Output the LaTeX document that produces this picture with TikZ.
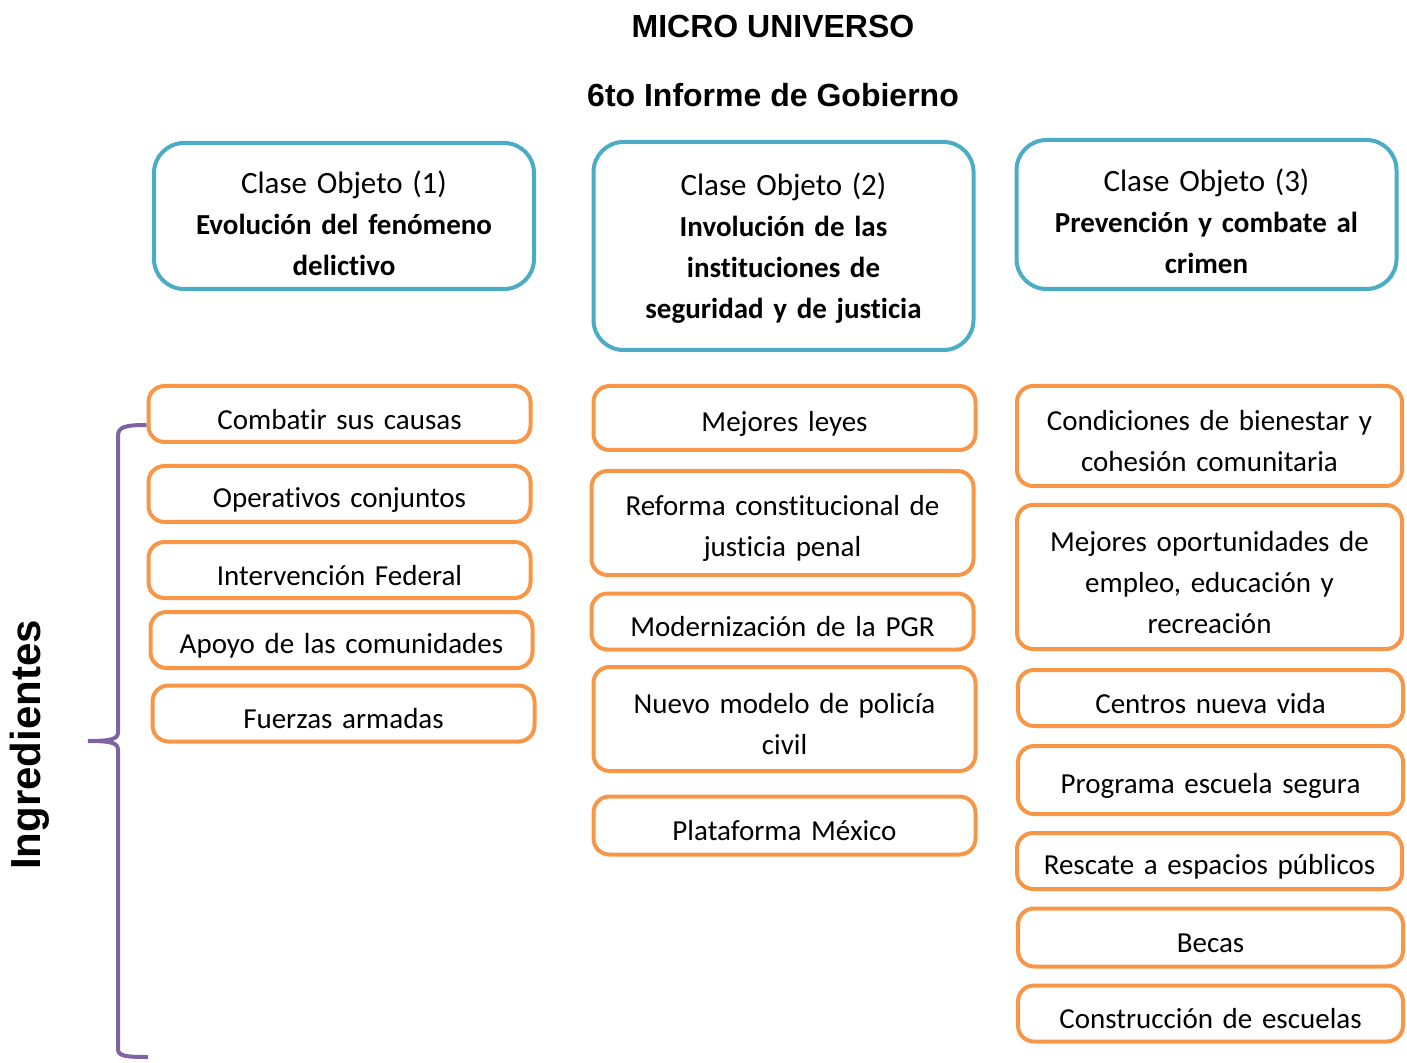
\documentclass[tikz,border=0pt]{standalone}
\usepackage{fontspec}
\setmainfont{Carlito}[Ligatures=NoCommon]
\newfontfamily\arialfont{Liberation Sans}
\definecolor{azulclase}{HTML}{4BACC6}
\definecolor{naranjaing}{HTML}{F79646}
\definecolor{moradollave}{HTML}{8064A2}
\newcommand{\textocaja}{\fontsize{14.5pt}{20.5pt}\selectfont}
\newcommand{\claseobj}[1]{{\fontsize{15.5pt}{20.5pt}\selectfont Clase Objeto (#1)}}

\begin{document}
\begin{tikzpicture}[x=0.5pt, y=-0.5pt,
	clase/.style={draw=azulclase, line width=2pt, rounded corners=15pt, text width=174pt, inner xsep=8pt, align=center, font=\textocaja, execute at begin node={\rule{0pt}{#1}}},
	clase/.default=18.5pt,
	ingrediente/.style={draw=naranjaing, line width=2pt, rounded corners=8pt, text width=175pt, inner xsep=8pt, inner ysep=0pt, align=center, font=\textocaja, execute at begin node={\rule{0pt}{15.5pt}}},
	titulo/.style={font=\arialfont\bfseries\fontsize{16pt}{19pt}\selectfont, anchor=base}]
	\useasboundingbox (0,0) rectangle (1407,1063);
	\node [titulo] (micro) at (773,38) {MICRO UNIVERSO};
	\node [titulo] (informe) at (773,107) {6to Informe de Gobierno};
	\node [clase, minimum height=73pt] (clase1) at (344,216) {\claseobj{1}\\ \textbf{Evolución del fenómeno}\\ \textbf{delictivo}};
	\node [clase=13.5pt, minimum height=104pt] (clase2) at (783.5,246) {\claseobj{2}\\ \textbf{Involución de las}\\ \textbf{instituciones de}\\ \textbf{seguridad y de justicia}};
	\node [clase, minimum height=74.5pt] (clase3) at (1206.5,214.5) {\claseobj{3}\\ \textbf{Prevención y combate al}\\ \textbf{crimen}};
	\node [ingrediente, minimum height=28pt] (combatir) at (339.5,414) {Combatir sus causas};
	\node [ingrediente, minimum height=28pt] (operativos) at (339.5,494) {Operativos conjuntos};
	\node [ingrediente, minimum height=28pt] (intervencion) at (339.5,570) {Intervención Federal};
	\node [ingrediente, minimum height=28pt] (apoyo) at (341.5,640) {Apoyo de las comunidades};
	\node [ingrediente, minimum height=28pt] (fuerzas) at (343.5,713.5) {Fuerzas armadas};
	\node [ingrediente, minimum height=32pt] (leyes) at (784.5,418) {Mejores leyes};
	\node [ingrediente, minimum height=52pt] (reforma) at (782.5,523) {Reforma constitucional de\\ justicia penal};
	\node [ingrediente, minimum height=28pt] (pgr) at (782.5,621.5) {Modernización de la PGR};
	\node [ingrediente, minimum height=52pt] (policia) at (784.5,719) {Nuevo modelo de policía\\ civil};
	\node [ingrediente, minimum height=29pt] (plataforma) at (784.5,825.5) {Plataforma México};
	\node [ingrediente, minimum height=50pt, text width=176.5pt] (bienestar) at (1209.5,436) {Condiciones de bienestar y\\ cohesión comunitaria};
	\node [ingrediente, minimum height=72pt, text width=176.5pt] (oportunidades) at (1209.5,577) {Mejores oportunidades de\\ empleo, educación y\\ recreación};
	\node [ingrediente, minimum height=28pt, text width=176.5pt] (centros) at (1210.5,698) {Centros nueva vida};
	\node [ingrediente, minimum height=34pt, text width=176.5pt] (escuela) at (1210.5,780) {Programa escuela segura};
	\node [ingrediente, minimum height=28pt, text width=176.5pt] (rescate) at (1209.5,861) {Rescate a espacios públicos};
	\node [ingrediente, minimum height=29pt, text width=176.5pt] (becas) at (1210.5,937.5) {Becas};
	\node [ingrediente, minimum height=28pt, text width=176.5pt] (construccion) at (1210.5,1013.5) {Construcción de escuelas};
	\node [rotate=90, font=\arialfont\bfseries\fontsize{21pt}{25pt}\selectfont] (ingredientes) at (30,745) {Ingredientes};
	\coordinate (puntallave) at (88,741);
	\draw [moradollave, line width=2pt] (combatir.west |- 0,425) .. controls (125,425) and (118,427) .. (118,436) -- (118,732) .. controls (118,739) and (112,741) .. (puntallave) .. controls (112,741) and (118,743) .. (118,750) -- (118,1049) .. controls (118,1056) and (125,1057) .. (148,1057);
\end{tikzpicture}
\end{document}
